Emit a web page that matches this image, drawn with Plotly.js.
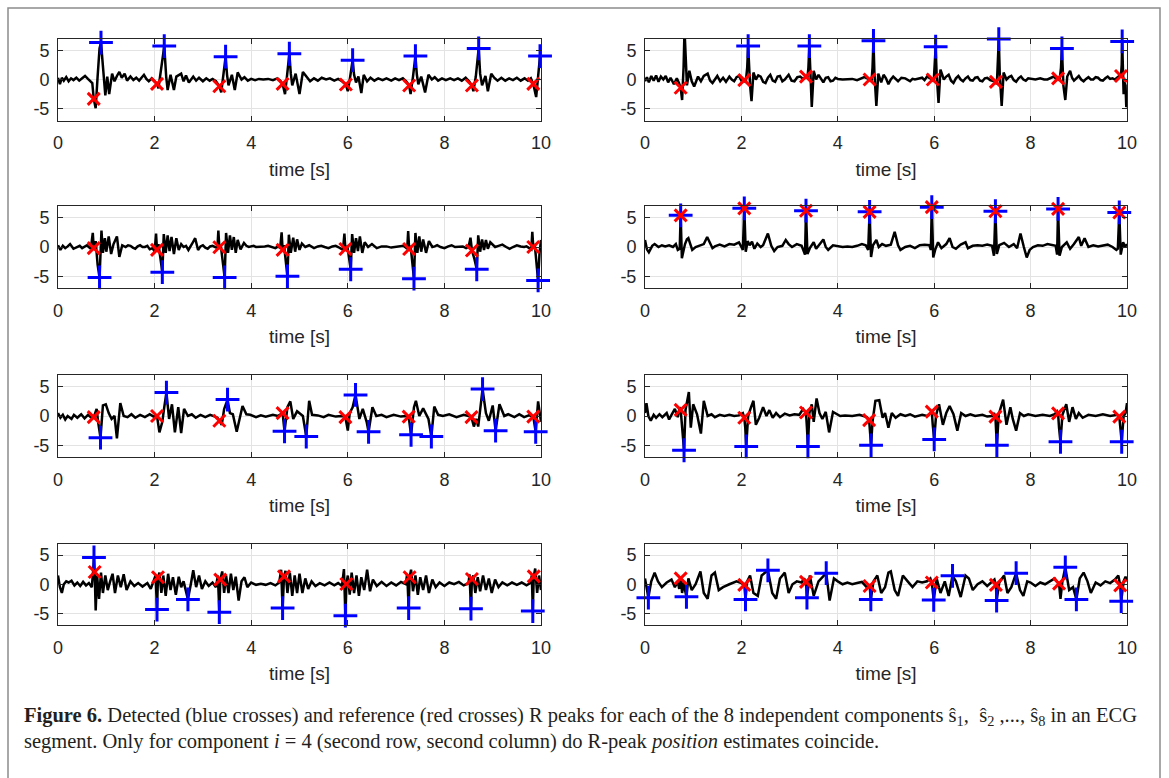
<!DOCTYPE html>
<html>
<head>
<meta charset="utf-8">
<script src="https://cdn.plot.ly/plotly-3.0.1.min.js"></script>
<style>html,body{margin:0;padding:0;background:#fff;}#chart{width:1169px;height:778px;}</style>
</head>
<body>
<div id="chart"></div>
<script>
// ---------- DATA ----------
const xTickVals = [0, 2, 4, 6, 8, 10];
const xTickText = ['0', '2', '4', '6', '8', '10'];
const yTickVals = [-5, 0, 5];
const yTickText = ['-5', '0', '5'];
const xTitle = 'time [s]';

// component 1 signal [time s, amplitude]
const s1_sig = [[0,0.3],[0.04,-0.8],[0.08,0.3],[0.12,-0.2],[0.17,0.4],[0.22,-0.3],[0.27,0.2],[0.32,-0.1],[0.38,0.3],[0.44,-0.2],[0.5,0.2],[0.56,0.6],[0.62,0.1],[0.67,-0.4],[0.71,-0.6],[0.74,-3.3],[0.78,-4.9],[0.82,0.5],[0.86,5.3],[0.89,6.3],[0.93,1.5],[0.98,-2.7],[1.02,0.5],[1.06,-2.5],[1.12,1.0],[1.17,-0.3],[1.22,0.6],[1.27,1.3],[1.32,0.3],[1.38,1.0],[1.43,-0.2],[1.5,0.5],[1.56,-0.1],[1.62,0.3],[1.68,-0.2],[1.74,0.4],[1.78,0.8],[1.83,0.1],[1.88,-0.3],[1.94,0.2],[1.99,-0.2],[2.05,-0.75],[2.08,-1.5],[2.13,1.5],[2.2,5.7],[2.24,0.5],[2.27,-1.8],[2.33,0.8],[2.4,-1.8],[2.45,0.5],[2.55,1.0],[2.6,-0.3],[2.65,0.7],[2.71,-0.5],[2.8,0.5],[2.86,-0.2],[2.92,0.3],[3.0,-0.3],[3.07,0.2],[3.14,-0.2],[3.2,0.1],[3.27,-0.3],[3.34,-1.15],[3.38,-2.2],[3.42,0.5],[3.47,3.9],[3.5,0.8],[3.53,-1.0],[3.6,0.8],[3.66,-1.8],[3.72,1.2],[3.8,0.0],[3.86,0.4],[3.93,-0.2],[4.0,0.1],[4.08,-0.1],[4.16,0.1],[4.25,0.0],[4.35,0.1],[4.45,-0.1],[4.54,0.2],[4.6,-0.2],[4.65,-0.75],[4.7,-2.5],[4.74,0.5],[4.79,4.4],[4.82,1.0],[4.85,-1.0],[4.92,1.0],[5.0,-2.5],[5.07,1.3],[5.15,0.5],[5.22,-0.3],[5.3,0.2],[5.38,-0.2],[5.46,0.3],[5.55,0.0],[5.63,0.2],[5.72,-0.2],[5.8,0.1],[5.88,-0.3],[5.96,-0.86],[6.0,-2.0],[6.05,0.5],[6.1,3.3],[6.13,0.8],[6.17,-0.5],[6.22,0.5],[6.28,-2.3],[6.33,0.8],[6.4,-0.3],[6.47,0.3],[6.55,-0.2],[6.63,0.2],[6.72,-0.1],[6.8,0.2],[6.9,-0.2],[6.98,0.2],[7.06,-0.1],[7.14,0.2],[7.21,-0.3],[7.27,-1.03],[7.3,-2.5],[7.35,0.5],[7.4,4.0],[7.43,0.8],[7.46,-0.8],[7.52,0.5],[7.6,-2.2],[7.67,0.8],[7.74,0.0],[7.8,0.4],[7.87,-0.2],[7.95,0.2],[8.03,-0.1],[8.12,0.2],[8.2,-0.1],[8.28,0.2],[8.36,-0.2],[8.44,0.3],[8.51,-0.3],[8.57,-1.03],[8.6,-2.0],[8.65,0.5],[8.71,5.3],[8.74,1.0],[8.78,-1.0],[8.85,0.6],[8.9,-2.0],[8.97,1.0],[9.03,0.3],[9.1,-0.2],[9.18,0.3],[9.26,-0.2],[9.34,0.2],[9.42,-0.1],[9.5,0.3],[9.58,-0.2],[9.66,0.2],[9.73,-0.2],[9.79,0.2],[9.84,-0.75],[9.9,-3.0],[9.94,0.5],[9.98,4.0],[10,3.0]];
const s1_detT = [0.89, 2.2, 3.47, 4.79, 6.1, 7.4, 8.71, 9.98];
const s1_detV = [6.3, 5.7, 3.9, 4.4, 3.3, 4.0, 5.3, 4.0];
const s1_refT = [0.74, 2.05, 3.34, 4.65, 5.96, 7.27, 8.57, 9.84];
const s1_refV = [-3.3, -0.75, -1.15, -0.75, -0.86, -1.03, -1.03, -0.75];

// component 2
const s2_sig = [[0,-0.3],[0.04,0.4],[0.08,-0.5],[0.13,0.6],[0.18,-0.2],[0.23,0.7],[0.28,-0.4],[0.33,0.5],[0.38,0.0],[0.43,0.6],[0.48,-0.5],[0.53,0.3],[0.6,-0.8],[0.66,0.2],[0.7,-0.5],[0.74,-1.4],[0.77,-3.5],[0.8,2.0],[0.82,8.5],[0.85,2.0],[0.87,-1.0],[0.92,1.5],[0.97,-0.3],[1.02,-1.2],[1.1,0.5],[1.16,-0.3],[1.22,0.6],[1.3,1.0],[1.35,-0.2],[1.4,-0.6],[1.46,0.2],[1.5,0.6],[1.56,-0.3],[1.62,0.3],[1.68,-0.4],[1.75,0.5],[1.8,0.0],[1.85,-0.3],[1.9,0.4],[1.95,0.6],[2.0,-0.2],[2.06,-0.1],[2.09,-0.5],[2.12,2.0],[2.14,5.7],[2.16,1.0],[2.18,-1.0],[2.21,-3.7],[2.25,1.2],[2.3,0.0],[2.35,0.7],[2.4,0.5],[2.45,-0.4],[2.5,-0.6],[2.55,0.3],[2.6,0.8],[2.65,-0.2],[2.7,-0.4],[2.75,0.5],[2.8,0.6],[2.85,-0.3],[2.9,0.0],[2.95,0.5],[2.98,0.8],[3.04,-0.2],[3.1,-0.3],[3.16,0.4],[3.22,0.5],[3.28,0.1],[3.34,0.5],[3.37,0.3],[3.39,2.0],[3.41,5.7],[3.43,1.0],[3.44,-1.0],[3.46,-4.7],[3.5,1.5],[3.55,0.0],[3.6,0.8],[3.65,0.2],[3.7,-0.5],[3.75,0.3],[3.8,0.4],[3.85,-0.3],[3.9,-0.2],[3.95,0.3],[4.0,0.1],[4.1,0.0],[4.2,0.1],[4.3,0.1],[4.4,-0.1],[4.48,0.1],[4.55,0.4],[4.61,0.2],[4.66,0.0],[4.7,-0.3],[4.72,2.0],[4.74,6.6],[4.76,1.0],[4.77,-1.0],[4.8,-4.5],[4.84,1.0],[4.9,-0.5],[4.95,0.8],[5.0,0.2],[5.05,-0.8],[5.1,0.0],[5.15,0.5],[5.2,0.1],[5.25,-0.3],[5.32,0.3],[5.4,0.2],[5.5,-0.3],[5.55,0.1],[5.6,0.0],[5.68,0.2],[5.75,0.3],[5.8,-0.1],[5.85,0.5],[5.92,0.2],[5.97,0.0],[5.99,-0.4],[6.01,2.0],[6.03,5.6],[6.05,1.0],[6.06,-1.0],[6.09,-4.0],[6.13,1.7],[6.2,0.0],[6.25,0.5],[6.3,0.8],[6.35,-0.2],[6.4,-0.6],[6.45,0.2],[6.5,0.6],[6.55,0.0],[6.6,-0.3],[6.65,0.2],[6.7,0.5],[6.75,-0.1],[6.8,-0.2],[6.85,0.3],[6.9,0.4],[6.95,-0.2],[7.0,-0.3],[7.05,0.2],[7.1,0.3],[7.16,-0.1],[7.22,-0.2],[7.28,-0.4],[7.3,-0.8],[7.32,2.0],[7.34,6.9],[7.36,1.0],[7.37,-1.0],[7.4,-4.5],[7.44,1.2],[7.5,0.0],[7.55,0.4],[7.6,0.6],[7.65,-0.1],[7.7,-0.4],[7.75,0.2],[7.8,0.5],[7.85,0.0],[7.9,-0.2],[7.95,0.2],[8.0,0.1],[8.1,0.0],[8.2,0.2],[8.28,0.0],[8.35,0.0],[8.42,0.3],[8.48,0.5],[8.53,0.1],[8.57,0.2],[8.6,-0.2],[8.63,2.0],[8.65,5.3],[8.67,1.0],[8.68,-1.0],[8.72,-3.5],[8.76,0.5],[8.82,1.5],[8.86,0.3],[8.9,-0.2],[8.95,0.3],[9.0,0.6],[9.05,0.0],[9.1,-0.3],[9.15,0.1],[9.2,0.4],[9.25,0.0],[9.3,0.0],[9.35,0.4],[9.4,0.3],[9.45,-0.1],[9.5,-0.2],[9.55,0.2],[9.6,0.5],[9.65,0.1],[9.7,0.2],[9.75,0.0],[9.8,0.4],[9.85,0.7],[9.875,0.6],[9.89,2.5],[9.9,6.5],[9.92,1.0],[9.93,-2.5],[9.95,-0.5],[9.97,-1.0],[9.985,-4.7],[10,-4.5]];
const s2_detT = [2.14, 3.41, 4.74, 6.03, 7.34, 8.65, 9.9];
const s2_detV = [5.7, 5.7, 6.6, 5.6, 6.9, 5.3, 6.5];
const s2_refT = [0.74, 2.06, 3.34, 4.66, 5.97, 7.28, 8.57, 9.875];
const s2_refV = [-1.4, -0.1, 0.5, 0.0, 0.0, -0.4, 0.2, 0.6];

// component 3
const s3_sig = [[0,0.3],[0.05,-0.5],[0.1,0.2],[0.15,-0.2],[0.2,0.1],[0.25,0.5],[0.32,-0.3],[0.4,0.0],[0.45,0.2],[0.5,-0.2],[0.55,0.1],[0.6,0.3],[0.65,-0.1],[0.68,-0.3],[0.72,2.4],[0.74,-0.2],[0.78,1.0],[0.82,-3.0],[0.86,-5.2],[0.88,0.5],[0.9,2.8],[0.93,-1.0],[0.97,1.5],[1.0,-0.8],[1.05,1.8],[1.1,-1.2],[1.15,0.5],[1.22,1.8],[1.27,-1.7],[1.33,0.3],[1.4,0.0],[1.45,0.3],[1.5,0.2],[1.55,-0.1],[1.6,-0.3],[1.65,0.1],[1.7,0.3],[1.75,0.0],[1.8,0.0],[1.85,0.2],[1.9,-0.4],[1.96,-0.2],[2.0,-0.8],[2.03,2.3],[2.05,-0.5],[2.08,0.5],[2.12,-2.0],[2.16,-4.3],[2.19,2.2],[2.23,-1.0],[2.27,2.0],[2.31,-0.7],[2.35,1.7],[2.4,-1.2],[2.45,1.5],[2.5,-0.5],[2.55,0.5],[2.6,0.0],[2.65,0.2],[2.7,-0.5],[2.78,0.6],[2.84,1.5],[2.9,-0.5],[2.95,0.1],[3.0,0.3],[3.05,-0.1],[3.1,-0.3],[3.15,0.1],[3.2,0.2],[3.26,-0.1],[3.3,-0.2],[3.32,2.8],[3.34,-0.05],[3.37,0.3],[3.41,-2.0],[3.45,-5.2],[3.48,2.4],[3.52,-1.0],[3.56,2.0],[3.6,-0.5],[3.64,1.7],[3.68,-1.0],[3.72,1.2],[3.78,-0.4],[3.85,0.7],[3.9,0.2],[3.95,0.0],[4.0,0.1],[4.05,0.2],[4.1,0.0],[4.2,0.0],[4.28,0.1],[4.35,0.2],[4.42,0.0],[4.5,-0.2],[4.56,0.1],[4.6,-0.2],[4.63,2.5],[4.65,-0.5],[4.68,0.3],[4.71,-2.0],[4.75,-5.0],[4.78,2.1],[4.82,-1.0],[4.87,1.6],[4.91,-0.8],[4.95,1.3],[5.0,-0.5],[5.05,0.6],[5.12,0.0],[5.2,0.3],[5.25,0.0],[5.3,-0.2],[5.38,0.1],[5.45,0.2],[5.52,0.0],[5.6,-0.2],[5.68,0.1],[5.75,0.2],[5.8,0.0],[5.85,-0.3],[5.9,-0.5],[5.93,2.3],[5.95,-0.35],[5.99,0.2],[6.02,-1.8],[6.06,-3.8],[6.09,2.2],[6.13,-1.0],[6.17,1.5],[6.21,-0.7],[6.25,1.8],[6.3,-1.0],[6.35,0.8],[6.42,0.0],[6.5,0.5],[6.55,0.1],[6.6,-0.2],[6.7,0.1],[6.8,0.1],[6.9,-0.1],[7.0,0.0],[7.08,0.1],[7.15,0.2],[7.2,-0.1],[7.23,-0.3],[7.25,2.7],[7.27,-0.35],[7.3,0.2],[7.33,-2.2],[7.37,-5.4],[7.4,2.4],[7.44,-1.0],[7.48,1.8],[7.52,-0.8],[7.56,1.3],[7.62,-1.0],[7.68,1.0],[7.75,0.0],[7.8,0.1],[7.85,0.3],[7.92,0.0],[8.0,-0.2],[8.08,0.1],[8.15,0.3],[8.22,0.0],[8.3,0.0],[8.38,0.1],[8.45,-0.2],[8.5,0.0],[8.54,1.6],[8.57,-0.6],[8.62,-2.0],[8.67,-3.8],[8.7,2.0],[8.74,-0.8],[8.78,1.3],[8.82,-0.5],[8.86,1.2],[8.9,-0.3],[8.95,0.8],[9.05,0.0],[9.12,0.2],[9.2,0.4],[9.28,0.0],[9.35,-0.3],[9.42,0.0],[9.5,0.3],[9.58,0.1],[9.65,0.0],[9.7,0.1],[9.75,-0.2],[9.8,-0.4],[9.82,2.6],[9.84,0.0],[9.87,0.5],[9.9,-2.5],[9.94,-5.7],[9.97,-1.0],[10,1.2]];
const s3_detT = [0.86, 2.16, 3.45, 4.75, 6.06, 7.37, 8.67, 9.94];
const s3_detV = [-5.2, -4.3, -5.2, -5.0, -3.8, -5.4, -3.8, -5.7];
const s3_refT = [0.74, 2.05, 3.34, 4.65, 5.95, 7.27, 8.57, 9.84];
const s3_refV = [-0.2, -0.5, -0.05, -0.5, -0.35, -0.35, -0.6, 0.0];

// component 4
const s4_sig = [[0,1.2],[0.04,-0.4],[0.08,-0.9],[0.15,0.2],[0.2,0.5],[0.28,0.0],[0.35,0.3],[0.42,0.1],[0.5,0.3],[0.58,0.0],[0.64,0.5],[0.68,-0.5],[0.72,-0.3],[0.74,5.4],[0.765,-1.9],[0.8,-0.3],[0.83,0.5],[0.87,1.3],[0.9,1.5],[0.94,0.5],[0.98,-0.5],[1.05,0.0],[1.15,0.3],[1.22,0.5],[1.29,1.7],[1.35,0.5],[1.4,-0.2],[1.45,0.1],[1.55,0.4],[1.65,0.1],[1.75,0.5],[1.85,0.4],[1.95,0.8],[2.0,0.0],[2.03,-0.5],[2.06,6.6],[2.09,-0.8],[2.13,1.0],[2.17,0.3],[2.22,0.9],[2.27,-0.3],[2.33,0.6],[2.4,0.0],[2.45,0.3],[2.55,2.3],[2.62,0.2],[2.68,-0.7],[2.75,0.0],[2.85,0.2],[2.92,1.2],[2.98,0.5],[3.05,0.0],[3.15,0.5],[3.25,0.2],[3.32,-1.3],[3.34,6.2],[3.37,-1.2],[3.42,-0.2],[3.5,0.8],[3.55,-0.3],[3.6,0.2],[3.7,1.3],[3.75,0.0],[3.8,-0.5],[3.9,0.3],[4.0,0.2],[4.1,0.0],[4.2,0.1],[4.3,0.0],[4.4,0.2],[4.5,0.5],[4.58,0.3],[4.63,-0.5],[4.66,6.0],[4.69,-1.7],[4.73,0.3],[4.8,1.2],[4.85,0.0],[4.92,0.5],[5.0,0.2],[5.1,0.4],[5.18,2.6],[5.25,0.3],[5.3,-0.5],[5.4,0.0],[5.5,0.2],[5.6,-0.2],[5.7,0.3],[5.8,0.4],[5.9,0.3],[5.93,-0.5],[5.95,6.8],[5.98,-1.8],[6.02,-0.5],[6.08,0.8],[6.15,-0.2],[6.25,0.5],[6.32,1.5],[6.38,0.0],[6.45,-0.3],[6.55,0.4],[6.65,0.8],[6.7,-0.2],[6.8,0.2],[6.9,0.3],[7.0,0.2],[7.1,0.4],[7.2,0.2],[7.24,-1.5],[7.27,6.1],[7.3,-1.2],[7.35,0.3],[7.45,0.7],[7.55,0.0],[7.65,0.5],[7.72,-0.2],[7.79,2.3],[7.86,0.0],[7.92,-1.8],[7.98,-0.5],[8.05,0.0],[8.15,0.3],[8.25,0.2],[8.35,0.5],[8.45,0.3],[8.52,0.2],[8.55,-1.3],[8.57,6.5],[8.6,-1.5],[8.65,0.0],[8.75,0.8],[8.82,-0.3],[8.9,0.5],[9.0,1.7],[9.05,0.2],[9.12,1.5],[9.2,0.0],[9.3,0.3],[9.4,0.1],[9.5,0.2],[9.6,0.4],[9.7,0.0],[9.78,-0.5],[9.81,-0.3],[9.84,5.9],[9.87,-1.3],[9.92,0.8],[9.96,0.0],[10,0.5]];
const s4_detT = [0.74, 2.06, 3.34, 4.66, 5.95, 7.27, 8.57, 9.84];
const s4_detV = [5.4, 6.6, 6.2, 6.0, 6.8, 6.1, 6.5, 5.9];
const s4_refT = [0.74, 2.06, 3.34, 4.66, 5.95, 7.27, 8.57, 9.84];
const s4_refV = [5.4, 6.6, 6.2, 6.0, 6.8, 6.1, 6.5, 5.9];

// component 5
const s5_sig = [[0,0.5],[0.05,-0.3],[0.1,0.2],[0.15,-0.6],[0.2,0.0],[0.28,-0.5],[0.33,0.2],[0.4,-0.3],[0.48,0.3],[0.55,-0.4],[0.62,0.2],[0.68,-0.2],[0.74,-0.2],[0.8,1.2],[0.83,-1.0],[0.88,-3.7],[0.93,1.8],[0.99,2.0],[1.05,0.5],[1.11,-0.5],[1.17,0.0],[1.22,-3.8],[1.29,2.2],[1.36,0.0],[1.44,-0.2],[1.52,0.3],[1.6,-0.3],[1.7,0.2],[1.8,-0.2],[1.9,0.3],[1.98,-0.1],[2.05,0.0],[2.1,-2.8],[2.16,-1.0],[2.2,1.5],[2.245,4.0],[2.3,-0.5],[2.36,2.0],[2.42,-2.8],[2.49,1.5],[2.55,-2.9],[2.61,1.2],[2.69,0.0],[2.77,0.3],[2.85,-0.3],[2.95,0.2],[3.05,-0.2],[3.15,0.2],[3.25,-0.1],[3.3,-0.3],[3.34,-0.8],[3.39,-1.5],[3.44,1.2],[3.51,2.8],[3.56,0.5],[3.62,0.3],[3.7,-2.7],[3.82,1.7],[3.9,0.3],[3.98,0.2],[4.1,-0.2],[4.2,0.1],[4.3,-0.1],[4.45,0.2],[4.55,0.0],[4.6,0.2],[4.65,0.5],[4.69,-2.6],[4.75,1.5],[4.81,2.5],[4.87,-0.5],[4.95,0.8],[5.07,0.0],[5.14,-3.5],[5.2,2.6],[5.26,0.2],[5.38,0.1],[5.5,-0.2],[5.6,0.2],[5.75,-0.1],[5.88,0.0],[5.95,-0.2],[6.0,-2.5],[6.04,0.5],[6.1,1.5],[6.16,3.6],[6.24,-0.5],[6.31,1.2],[6.39,-1.0],[6.43,-2.7],[6.51,1.5],[6.59,0.0],[6.7,0.2],[6.8,-0.2],[6.95,0.2],[7.1,-0.1],[7.2,0.0],[7.26,-0.1],[7.31,-3.2],[7.37,1.5],[7.41,2.6],[7.48,0.0],[7.56,1.3],[7.67,-0.5],[7.73,-3.5],[7.79,1.6],[7.87,0.2],[7.97,0.0],[8.1,0.3],[8.25,-0.2],[8.4,0.2],[8.5,0.0],[8.56,-0.2],[8.61,-1.8],[8.66,-0.5],[8.7,-1.8],[8.79,4.6],[8.86,0.5],[8.92,-0.8],[9.0,1.8],[9.06,-2.5],[9.14,2.0],[9.24,0.0],[9.32,0.3],[9.45,-0.2],[9.55,0.3],[9.65,-0.2],[9.75,0.1],[9.84,-0.1],[9.89,-2.7],[9.94,2.5],[10,-1.0]];
const s5_detT = [0.88, 2.245, 3.51, 4.69, 5.14, 6.16, 6.43, 7.31, 7.73, 8.79, 9.06, 9.89];
const s5_detV = [-3.7, 4.0, 2.8, -2.6, -3.5, 3.6, -2.7, -3.2, -3.5, 4.6, -2.5, -2.7];
const s5_refT = [0.74, 2.05, 3.34, 4.65, 5.95, 7.26, 8.56, 9.84];
const s5_refV = [-0.2, 0.0, -0.8, 0.5, -0.2, -0.1, -0.2, -0.1];

// component 6
const s6_sig = [[0,0.5],[0.03,2.2],[0.07,0.0],[0.12,-0.8],[0.18,0.2],[0.23,-0.3],[0.3,0.3],[0.36,-0.2],[0.45,0.5],[0.5,-0.6],[0.55,0.2],[0.62,1.2],[0.68,-0.2],[0.72,1.5],[0.74,1.05],[0.77,-2.0],[0.81,-5.85],[0.84,1.0],[0.91,4.1],[0.95,-2.0],[1.0,2.0],[1.08,0.3],[1.16,-3.0],[1.22,2.6],[1.3,0.0],[1.38,0.3],[1.45,-0.2],[1.55,0.2],[1.65,0.0],[1.75,0.2],[1.85,0.0],[1.95,0.1],[2.03,0.5],[2.06,-0.3],[2.08,-2.0],[2.1,-5.2],[2.14,0.0],[2.2,1.5],[2.25,2.6],[2.3,-1.5],[2.37,-0.3],[2.45,1.5],[2.52,0.0],[2.58,1.0],[2.65,-0.3],[2.72,0.5],[2.8,-0.2],[2.9,0.4],[3.0,0.1],[3.1,0.3],[3.2,0.2],[3.28,1.2],[3.34,0.6],[3.36,-2.0],[3.38,-5.2],[3.41,0.5],[3.46,2.0],[3.5,-1.0],[3.56,3.0],[3.62,0.5],[3.68,-0.5],[3.75,0.7],[3.82,-2.8],[3.9,0.7],[3.98,0.3],[4.05,0.0],[4.15,0.1],[4.3,0.0],[4.45,0.2],[4.55,0.0],[4.6,-0.2],[4.65,-0.7],[4.67,-2.5],[4.69,-5.0],[4.72,-1.0],[4.78,2.6],[4.86,2.7],[4.93,-0.3],[4.98,0.5],[5.05,-2.0],[5.12,0.5],[5.2,-0.3],[5.3,0.3],[5.4,0.0],[5.5,0.3],[5.6,-0.1],[5.75,0.2],[5.85,0.0],[5.9,0.3],[5.95,0.75],[5.97,-1.5],[6.0,-4.0],[6.04,0.2],[6.1,2.0],[6.18,-1.5],[6.25,0.5],[6.32,1.7],[6.4,0.3],[6.48,-2.5],[6.56,0.5],[6.65,0.0],[6.75,0.3],[6.85,0.0],[7.0,0.2],[7.1,-0.1],[7.2,0.0],[7.24,0.5],[7.27,-0.1],[7.3,-5.0],[7.34,0.3],[7.43,2.8],[7.5,-1.5],[7.58,1.5],[7.63,-0.5],[7.7,-2.5],[7.78,0.5],[7.86,0.0],[7.95,0.3],[8.1,0.0],[8.25,0.2],[8.4,0.0],[8.5,0.3],[8.55,0.8],[8.57,0.45],[8.59,-2.0],[8.62,-4.4],[8.66,0.2],[8.74,2.0],[8.8,-1.0],[8.87,1.5],[8.94,-0.5],[9.0,0.5],[9.08,-0.3],[9.2,0.2],[9.35,0.0],[9.5,0.3],[9.65,0.0],[9.75,0.2],[9.8,0.2],[9.84,-0.1],[9.86,-2.0],[9.89,-4.4],[9.93,0.0],[9.97,0.5],[10,2.2]];
const s6_detT = [0.81, 2.1, 3.38, 4.69, 6.0, 7.3, 8.62, 9.89];
const s6_detV = [-5.85, -5.2, -5.2, -5.0, -4.0, -5.0, -4.4, -4.4];
const s6_refT = [0.74, 2.06, 3.34, 4.65, 5.95, 7.27, 8.57, 9.84];
const s6_refV = [1.05, -0.3, 0.6, -0.7, 0.75, -0.1, 0.45, -0.1];

// component 7
const s7_sig = [[0,1.5],[0.04,-0.5],[0.08,-1.5],[0.12,0.0],[0.17,0.5],[0.22,0.3],[0.28,0.6],[0.34,-0.2],[0.4,0.3],[0.46,-0.3],[0.52,0.4],[0.58,-0.2],[0.64,0.2],[0.7,-0.5],[0.73,2.5],[0.745,4.6],[0.76,2.1],[0.78,-4.5],[0.81,1.5],[0.85,-2.5],[0.89,2.0],[0.93,-1.5],[0.98,1.5],[1.03,-1.0],[1.08,0.5],[1.13,1.8],[1.18,-1.5],[1.24,1.5],[1.3,-0.5],[1.36,1.7],[1.42,-1.0],[1.5,0.5],[1.58,-0.3],[1.66,0.2],[1.75,-0.4],[1.85,0.2],[1.92,-0.8],[1.97,0.3],[2.02,1.5],[2.05,-4.35],[2.07,1.2],[2.1,2.0],[2.14,-1.5],[2.18,1.5],[2.23,-2.0],[2.28,1.8],[2.33,-1.0],[2.38,1.2],[2.44,-1.8],[2.5,1.3],[2.55,-0.5],[2.6,0.5],[2.66,-1.5],[2.69,-2.6],[2.75,0.0],[2.8,2.4],[2.86,-0.5],[2.92,1.5],[2.98,-0.8],[3.05,0.5],[3.12,-0.3],[3.2,0.3],[3.27,-0.5],[3.31,1.5],[3.34,-4.8],[3.36,0.8],[3.4,2.2],[3.44,-1.5],[3.48,1.5],[3.53,-1.5],[3.58,1.8],[3.63,-1.0],[3.68,1.3],[3.74,-2.8],[3.8,0.5],[3.86,1.2],[3.92,-0.5],[4.0,0.3],[4.1,-0.1],[4.2,0.1],[4.3,-0.1],[4.4,0.2],[4.5,-0.2],[4.58,0.3],[4.62,2.5],[4.65,-4.1],[4.68,1.35],[4.71,2.3],[4.75,-1.5],[4.8,2.0],[4.85,-2.0],[4.9,1.5],[4.95,-1.5],[5.0,1.8],[5.06,-1.5],[5.12,1.0],[5.18,-0.8],[5.25,0.5],[5.33,-0.3],[5.42,0.2],[5.52,-0.2],[5.62,0.3],[5.72,-0.2],[5.8,0.2],[5.88,-0.3],[5.92,2.6],[5.95,-5.4],[5.97,0.05],[6.0,1.5],[6.04,-1.8],[6.08,2.0],[6.13,-1.5],[6.18,1.5],[6.23,-2.0],[6.28,1.2],[6.34,-1.0],[6.4,2.5],[6.46,-1.2],[6.52,0.8],[6.6,-0.3],[6.7,0.4],[6.8,-0.3],[6.9,0.3],[7.0,-0.2],[7.1,0.4],[7.2,0.0],[7.23,1.8],[7.26,-4.1],[7.28,1.2],[7.31,2.5],[7.35,-1.2],[7.4,1.5],[7.45,-1.8],[7.5,1.2],[7.56,-1.0],[7.62,1.5],[7.68,-1.5],[7.75,0.8],[7.82,-0.5],[7.9,0.3],[8.0,-0.3],[8.1,0.3],[8.2,0.0],[8.3,0.4],[8.4,-0.2],[8.5,0.2],[8.52,1.7],[8.55,-4.2],[8.57,0.9],[8.6,1.5],[8.64,-1.5],[8.69,1.2],[8.74,-1.2],[8.8,1.5],[8.86,-1.0],[8.92,1.0],[8.98,-1.5],[9.05,0.8],[9.12,-0.5],[9.2,0.3],[9.3,-0.2],[9.4,0.3],[9.5,-0.1],[9.6,0.3],[9.7,-0.2],[9.78,0.2],[9.81,1.5],[9.83,-4.6],[9.85,1.35],[9.88,2.7],[9.92,-1.5],[9.96,1.5],[10,-1.0]];
const s7_detT = [0.745, 2.05, 2.69, 3.34, 4.65, 5.95, 7.26, 8.55, 9.83];
const s7_detV = [4.6, -4.35, -2.6, -4.8, -4.1, -5.4, -4.1, -4.2, -4.6];
const s7_refT = [0.76, 2.07, 3.36, 4.68, 5.97, 7.28, 8.57, 9.85];
const s7_refV = [2.1, 1.2, 0.8, 1.35, 0.05, 1.2, 0.9, 1.35];

// component 8
const s8_sig = [[0,1.0],[0.07,-2.3],[0.13,0.5],[0.2,2.0],[0.27,0.5],[0.35,-0.5],[0.45,0.3],[0.55,0.8],[0.62,-0.5],[0.68,0.5],[0.71,-0.8],[0.74,1.0],[0.77,-1.5],[0.8,0.3],[0.83,-1.0],[0.86,-2.15],[0.9,1.0],[0.97,-1.0],[1.05,0.0],[1.15,2.2],[1.22,-1.5],[1.3,-2.5],[1.38,1.5],[1.45,2.0],[1.53,-1.0],[1.62,-0.5],[1.75,0.0],[1.9,0.5],[2.0,0.2],[2.06,-0.1],[2.085,-2.6],[2.12,0.5],[2.18,1.5],[2.25,-1.5],[2.34,-2.0],[2.42,1.5],[2.55,2.4],[2.64,-1.5],[2.72,-2.5],[2.8,1.0],[2.9,2.0],[2.98,-1.5],[3.06,0.0],[3.15,0.5],[3.25,0.3],[3.3,1.0],[3.34,0.4],[3.36,-2.3],[3.42,1.5],[3.5,-2.0],[3.6,0.5],[3.76,1.9],[3.83,-2.8],[3.92,1.0],[4.0,0.5],[4.1,0.0],[4.2,0.3],[4.3,0.0],[4.4,0.2],[4.5,0.4],[4.6,-0.5],[4.66,-0.3],[4.685,-2.6],[4.74,0.5],[4.82,1.5],[4.9,-1.5],[4.98,-0.5],[5.05,2.0],[5.1,2.2],[5.18,-1.0],[5.25,-2.0],[5.35,1.5],[5.45,0.5],[5.55,-0.5],[5.65,0.5],[5.75,0.3],[5.85,0.5],[5.92,1.0],[5.95,0.3],[5.99,-2.7],[6.05,1.0],[6.13,-1.5],[6.22,0.5],[6.3,-2.0],[6.38,1.45],[6.45,0.5],[6.55,-2.2],[6.65,1.5],[6.72,1.0],[6.8,-1.0],[6.9,0.0],[7.0,0.5],[7.1,-0.3],[7.2,0.5],[7.25,0.8],[7.28,-0.1],[7.295,-2.8],[7.35,0.3],[7.45,1.5],[7.52,-1.5],[7.6,-0.5],[7.7,1.9],[7.78,-1.0],[7.85,-2.0],[7.93,0.5],[8.0,0.3],[8.1,-0.3],[8.2,0.3],[8.3,0.0],[8.4,0.5],[8.5,1.0],[8.56,0.3],[8.59,0.1],[8.62,-2.5],[8.66,0.5],[8.72,2.9],[8.8,-1.0],[8.88,-0.5],[8.95,-2.6],[9.02,1.0],[9.1,2.0],[9.18,0.5],[9.25,-1.5],[9.35,0.3],[9.45,-0.2],[9.55,0.5],[9.65,0.2],[9.75,0.8],[9.82,1.5],[9.86,-0.2],[9.88,-2.9],[9.93,0.5],[9.97,1.3],[10,0.5]];
const s8_detT = [0.07, 0.86, 2.085, 2.55, 3.36, 3.76, 4.685, 5.99, 6.38, 7.295, 7.7, 8.72, 8.95, 9.88];
const s8_detV = [-2.3, -2.15, -2.6, 2.4, -2.3, 1.9, -2.6, -2.7, 1.45, -2.8, 1.9, 2.9, -2.6, -2.9];
const s8_refT = [0.74, 2.06, 3.34, 4.66, 5.95, 7.28, 8.59, 9.86];
const s8_refV = [1.0, -0.1, 0.4, -0.3, 0.3, -0.1, 0.1, -0.2];

const captionLine1 = '<b>Figure 6.</b> Detected (blue crosses) and reference (red crosses) R peaks for each of the 8 independent components ŝ<sub>1</sub>,  ŝ<sub>2</sub> ,..., ŝ<sub>8</sub> in an ECG';
const captionLine2 = 'segment. Only for component <i>i</i> = 4 (second row, second column) do R-peak <i>position</i> estimates coincide.';

// ---------- BUILD ----------
const panels = [
  [s1_sig, s1_detT, s1_detV, s1_refT, s1_refV],
  [s2_sig, s2_detT, s2_detV, s2_refT, s2_refV],
  [s3_sig, s3_detT, s3_detV, s3_refT, s3_refV],
  [s4_sig, s4_detT, s4_detV, s4_refT, s4_refV],
  [s5_sig, s5_detT, s5_detV, s5_refT, s5_refV],
  [s6_sig, s6_detT, s6_detV, s6_refT, s6_refV],
  [s7_sig, s7_detT, s7_detV, s7_refT, s7_refV],
  [s8_sig, s8_detT, s8_detV, s8_refT, s8_refV]
];

const W = 1169, H = 778;
const colPx = [[58, 541], [645, 1127]];
const rowPx = [[38.5, 120.5], [206, 288], [375, 457], [543.5, 625]];

const FONT = 'Liberation Sans, Arial, Helvetica, sans-serif';
const SERIF = 'Liberation Serif, Times New Roman, serif';
const AX = '#262626';
const traces = [];
const layout = {
  width: W, height: H,
  margin: {l: 0, r: 0, t: 0, b: 0},
  paper_bgcolor: '#ffffff', plot_bgcolor: '#ffffff',
  showlegend: false,
  annotations: [],
  shapes: [{
    type: 'rect', xref: 'paper', yref: 'paper',
    x0: 8 / W, x1: 1160 / W, y0: -0.05, y1: 1 - 8 / H,
    line: {color: '#8c8c8c', width: 1.5}, fillcolor: 'rgba(0,0,0,0)', layer: 'below'
  }]
};

panels.forEach((p, i) => {
  const r = Math.floor(i / 2), c = i % 2;
  const n = i === 0 ? '' : String(i + 1);
  const xa = 'x' + n, ya = 'y' + n;
  const sig = p[0];
  traces.push({
    x: sig.map(d => d[0]), y: sig.map(d => d[1]),
    xaxis: xa, yaxis: ya, mode: 'lines',
    line: {color: '#000000', width: 2.5}, hoverinfo: 'skip'
  });
  traces.push({
    x: p[1], y: p[2], xaxis: xa, yaxis: ya, mode: 'markers', cliponaxis: false,
    marker: {symbol: 'cross-thin', size: 17, color: '#0000ff', line: {color: '#0000ff', width: 3}}
  });
  traces.push({
    x: p[3], y: p[4], xaxis: xa, yaxis: ya, mode: 'markers', cliponaxis: false,
    marker: {symbol: 'x-thin', size: 12, color: '#ff0000', line: {color: '#ff0000', width: 3}}
  });
  const common = {
    showgrid: true, gridcolor: '#e3e3e3', gridwidth: 1, zeroline: false,
    showline: true, linecolor: AX, linewidth: 1, mirror: 'ticks',
    ticks: 'inside', ticklen: 5, tickwidth: 1, tickcolor: AX,
    tickfont: {family: FONT, size: 18, color: AX}, fixedrange: true
  };
  layout['xaxis' + n] = Object.assign({}, common, {
    domain: [colPx[c][0] / W, colPx[c][1] / W],
    anchor: ya, range: [0, 10],
    tickmode: 'array', tickvals: xTickVals, ticktext: xTickText,
    ticklabelstandoff: 6,
    title: {text: xTitle, font: {family: FONT, size: 19, color: AX}, standoff: 10}
  });
  layout['yaxis' + n] = Object.assign({}, common, {
    domain: [1 - rowPx[r][1] / H, 1 - rowPx[r][0] / H],
    anchor: xa, range: [-7, 7],
    tickmode: 'array', tickvals: yTickVals, ticktext: yTickText,
    ticklabelstandoff: 4
  });
});

layout.annotations.push({
  text: captionLine1, xref: 'paper', yref: 'paper', x: 22 / W, y: 1 - 716 / H,
  xanchor: 'left', yanchor: 'middle', showarrow: false, align: 'left',
  font: {family: SERIF, size: 20.5, color: '#231f20'}
});
layout.annotations.push({
  text: captionLine2, xref: 'paper', yref: 'paper', x: 22 / W, y: 1 - 741 / H,
  xanchor: 'left', yanchor: 'middle', showarrow: false, align: 'left',
  font: {family: SERIF, size: 20.5, color: '#231f20'}
});

Plotly.newPlot('chart', traces, layout, {staticPlot: true, displayModeBar: false});
</script>
</body>
</html>
